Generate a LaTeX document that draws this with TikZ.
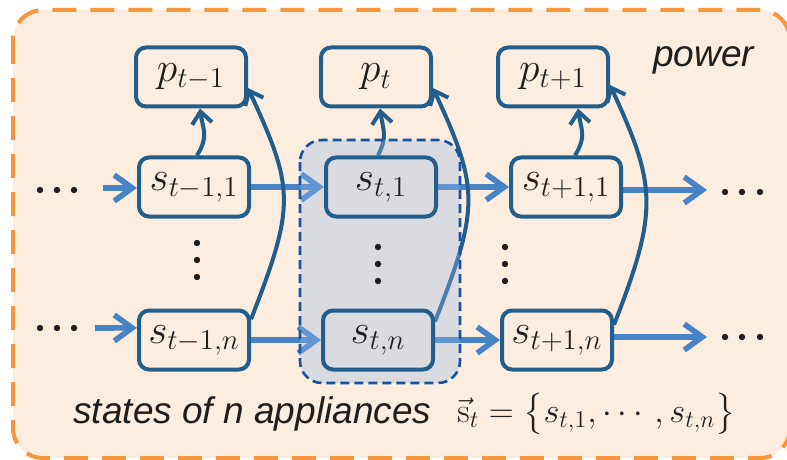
\documentclass[tikz,border=0pt]{standalone}
\usepackage[no-math]{fontspec}
\setsansfont{Liberation Sans}
\usepackage{amsmath}
\usetikzlibrary{arrows.meta,calc}
\definecolor{bgorange}{RGB}{253,237,223}
\definecolor{dashorange}{RGB}{247,150,60}
\definecolor{nodeblue}{RGB}{34,94,140}
\definecolor{flowblue}{RGB}{70,132,197}
\definecolor{groupblue}{RGB}{25,80,160}
\definecolor{groupgray}{RGB}{150,186,231}
\definecolor{textdark}{RGB}{30,30,30}
\pgfdeclarelayer{bg}
\pgfdeclarelayer{edges}
\pgfdeclarelayer{group}
\pgfsetlayers{bg,edges,group,main}

\begin{document}
\begin{tikzpicture}[x=0.5pt, y=-0.5pt,
				state/.style={draw=nodeblue, line width=2pt, rounded corners=5pt,
					minimum width=55pt, minimum height=29.5pt, inner sep=0pt,
					text=textdark, font=\fontsize{20}{24}\selectfont},
				flow/.style={flowblue, line width=2.8pt, -{Straight Barb[length=9pt,width=13pt]}},
				emit/.style={nodeblue, line width=2pt, -{Straight Barb[length=6pt,width=10pt]}},
				label/.style={text=textdark, font=\fontsize{18.5}{22}\selectfont\sffamily\itshape, inner sep=0pt}]
				\useasboundingbox (0,0) rectangle (787,460);
				\clip (0,0) rectangle (787,460);
				%Zustaende und Leistung
				\node[state] (p1) at (191,77) {$p_{t-1}$};
				\node[state] (p2) at (376,77) {$p_{t}$};
				\node[state] (p3) at (553,77) {$p_{t+1}$};
				\node[state] (a1) at (194,187) {$s_{t-1,1}$};
				\node[state] (a2) at (381,187) {$s_{t,1}$};
				\node[state] (a3) at (566,187) {$s_{t+1,1}$};
				\node[state] (b1) at (194,340) {$s_{t-1,n}$};
				\node[state] (b2) at (378,340) {$s_{t,n}$};
				\node[state] (b3) at (557,340) {$s_{t+1,n}$};
				% freie Enden
				\coordinate (inA) at (103,188);
				\coordinate (inB) at (95,328);
				\coordinate (outA) at (707,190);
				\coordinate (outB) at (707,337);
				% Beschriftung
				\node[label, anchor=base west] (power) at (653,67) {power};
				\node[label, anchor=base west] (states) at (73,423) {states of n appliances};
				\node[anchor=base west, inner sep=0pt, text=textdark, font=\fontsize{17.5}{21}\selectfont] (set) at (457,422)
					{$\vec{\mathrm{s}}_t=\bigl\{s_{t,1},\cdots,s_{t,n}\bigr\}$};
				% Punkte
				\foreach \x in {40,57,74} {
					\fill[textdark] (\x,190) circle (1.6pt);
					\fill[textdark] (\x,328) circle (1.6pt);
				}
				\foreach \x in {725,742,760} {
					\fill[textdark] (\x,192) circle (1.6pt);
					\fill[textdark] (\x,337) circle (1.6pt);
				}
				\foreach \x/\d in {197/0,378/4,505/4} {
					\foreach \y in {243,260,277} \fill[textdark] (\x,\y+\d) circle (1.6pt);
				}
				%Hintergrund
				\begin{pgfonlayer}{bg}
					\draw[dashorange, fill=bgorange, line width=2pt, dash pattern=on 12pt off 7pt,
						rounded corners=15pt] (13,10) rectangle (790,458);
				\end{pgfonlayer}
				%Gruppe
				\begin{pgfonlayer}{group}
					\draw[groupblue, line width=1.3pt, dash pattern=on 4.5pt off 2.5pt,
						fill=groupgray, fill opacity=0.35, rounded corners=11pt] (300,140) rectangle (460,383);
				\end{pgfonlayer}
				%Pfeile
				\begin{pgfonlayer}{edges}
					\draw[flow] (inA) -- (a1.west |- inA);
					\draw[flow] (a1) -- (a2);
					\draw[flow] (a2) -- (a3);
					\draw[flow] (a3.east |- outA) -- (outA);
					\draw[flow] (inB) -- (b1.168);
					\draw[flow] (b1) -- (b2);
					\draw[flow] (b2) -- (b3);
					\draw[flow] (b3.east |- outB) -- (outB);
					\draw[emit] ($(a1.north)+(3,0)$) .. controls +(12,-20) and +(3,22) .. ($(p1.south)+(9,0)$);
					\draw[emit] ($(a2.north)+(-3,0)$) .. controls +(10,-20) and +(3,22) .. ($(p2.south)+(4,0)$);
					\draw[emit] ($(a3.north)+(9,0)$) .. controls +(12,-20) and +(3,22) .. ($(p3.south)+(25,0)$);
					\draw[emit] (b1.20) .. controls +(45,-115) and +(46,100) .. (p1.-11);
					\draw[emit] (b2.18) .. controls +(45,-115) and +(46,100) .. (p2.-11);
					\draw[emit] (b3.15) .. controls +(45,-115) and +(46,100) .. (p3.-8);
				\end{pgfonlayer}
			\end{tikzpicture}
\end{document}
